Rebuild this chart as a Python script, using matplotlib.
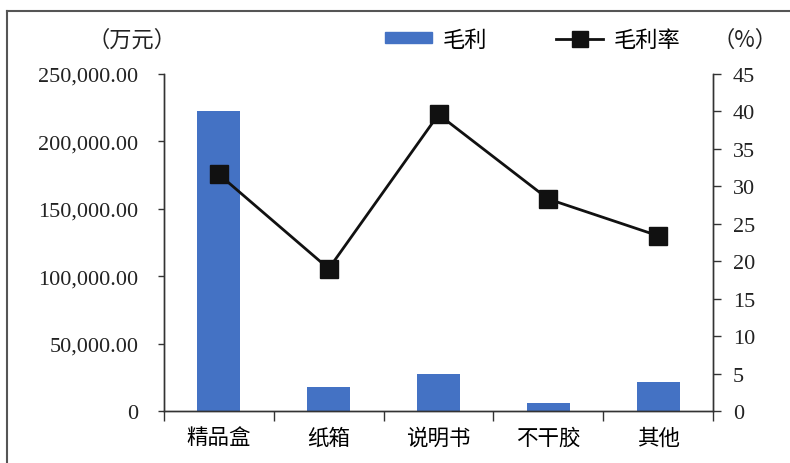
import matplotlib
matplotlib.use("Agg")
import matplotlib.pyplot as plt
from matplotlib.patches import Rectangle
from matplotlib.lines import Line2D
from matplotlib.ticker import FuncFormatter, FixedLocator
import numpy as np

categories = ["精品盒", "纸箱", "说明书", "不干胶", "其他"]
gross_profit = [222500, 18000, 27500, 6000, 21800]   # 万元
gross_margin = [31.6, 19.0, 39.6, 28.3, 23.4]        # %
left_ticks = [0, 50000, 100000, 150000, 200000, 250000]
right_ticks = [0, 5, 10, 15, 20, 25, 30, 35, 40, 45]

CJK = ["Noto Sans CJK SC", "DejaVu Sans"]
SERIF = ["Liberation Serif", "DejaVu Serif"]
BLUE = "#4472C4"

fig = plt.figure(figsize=(7.9, 4.64), dpi=100)
ax = fig.add_axes([164/790, 1-412/464, (713-164)/790, (412-75)/464])
ax2 = ax.twinx()

x = np.arange(len(categories))
ax.bar(x, gross_profit, width=0.39, color=BLUE, zorder=2)
ax2.plot(x, gross_margin, color="#111111", lw=2, marker="s", markersize=13,
         markerfacecolor="#111111", markeredgecolor="#111111", zorder=3)

ax.set_xlim(-0.5, len(categories)-0.5)
ax.set_ylim(0, 250000)
ax2.set_ylim(0, 45)

ax.set_yticks(left_ticks)
ax.yaxis.set_major_formatter(FuncFormatter(lambda v, p: "0" if v == 0 else f"{v:,.2f}"))
ax2.set_yticks(right_ticks)

ax.set_xticks(x)
ax.set_xticklabels(categories, fontfamily=CJK, fontsize=15.5)
ax.xaxis.set_minor_locator(FixedLocator(np.arange(-0.5, len(categories), 1.0)))
ax.tick_params(axis="x", which="major", length=0, pad=11)
ax.tick_params(axis="x", which="minor", length=7, width=1, color="#333333", direction="out")

for a in (ax, ax2):
    for s in a.spines.values():
        s.set_color("#333333")
        s.set_linewidth(1)
    a.spines["top"].set_visible(False)

ax.tick_params(axis="y", length=4.5, width=1, color="#333333", direction="out", pad=14)
ax2.tick_params(axis="y", length=5.8, width=1, color="#333333", direction="out", pad=8.5)
for lab in ax.get_yticklabels() + ax2.get_yticklabels():
    lab.set_fontfamily(SERIF)
    lab.set_fontsize(16)
    lab.set_color("#222222")

# unit labels
fig.text(132/790, 1-40/464, "（万元）", fontfamily=CJK, fontsize=16, ha="center", va="center", color="#222222")
fig.text(745/790, 1-40/464, "（%）", fontfamily=CJK, fontsize=16, ha="center", va="center", color="#222222")

handles = [Rectangle((0, 0), 1, 1, color=BLUE),
           Line2D([0], [0], color="#111111", lw=2, marker="s", markersize=12)]
fig.legend(handles, ["毛利", "毛利率"], loc="center", bbox_to_anchor=(533/790, 1-40/464),
           ncol=2, frameon=False, prop={"family": CJK, "size": 16},
           handlelength=2.1, handleheight=0.4, columnspacing=3.1, handletextpad=0.5,
           borderpad=0, borderaxespad=0)

# figure border
fig.add_artist(Line2D([7/790, 7/790], [0, 1-12/464], color="#555555", lw=1.5, transform=fig.transFigure))
fig.add_artist(Line2D([7/790, 1], [1-12/464, 1-12/464], color="#555555", lw=1.5, transform=fig.transFigure))

fig.savefig("out.png", dpi=100)
